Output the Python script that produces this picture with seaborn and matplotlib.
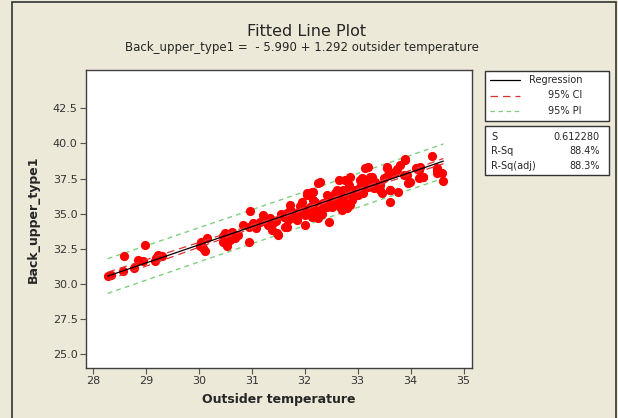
import numpy as np
import pandas as pd
import matplotlib
matplotlib.use("Agg")
import matplotlib.pyplot as plt
from matplotlib.patches import Rectangle
from matplotlib.lines import Line2D
import seaborn as sns

# --- data ---
temp = [28.28, 28.34, 28.57, 28.59, 28.78, 28.98, 28.86, 28.95, 29.17, 29.23,
        29.30, 29.20, 30.05, 30.15, 30.08, 30.12, 30.02, 30.46,
        30.49, 30.53, 30.59, 30.68, 30.46, 30.53, 30.94, 30.97, 30.84, 30.94,
        31.03, 31.09, 31.22, 31.25, 31.31, 31.38, 31.41, 31.47, 31.50, 31.16,
        31.35, 31.60, 31.66, 31.72, 31.79, 31.85, 31.91, 31.95, 32.01, 32.04,
        32.10, 32.16, 32.23, 32.26, 32.01, 31.63, 32.04, 32.16, 32.26, 32.29,
        32.42, 32.48, 32.54, 32.61, 32.64, 32.35, 32.42, 31.69, 31.85, 32.13,
        32.19, 31.95,
        34.40, 33.90, 33.80, 33.71, 33.55, 33.58, 33.74, 33.20, 33.14, 34.18,
        34.15, 34.24, 34.50, 34.50, 34.59, 34.62, 33.93, 33.87, 33.96, 33.61,
        33.77, 33.61, 33.49, 33.43, 33.46, 32.57, 32.61, 32.67, 32.76, 32.86,
        32.51, 32.64, 32.73, 32.86, 32.76, 32.83, 32.95, 33.05, 33.11, 33.08,
        33.24, 33.27, 33.30, 33.36, 33.17, 33.01, 32.92, 32.54, 32.70, 32.80,
        34.15, 33.99, 31.55, 31.75, 32.33, 32.45, 30.75, 30.62, 31.28, 33.66,
        31.60, 31.72, 31.79, 31.88, 32.04, 32.13, 32.16, 32.29, 32.38, 32.44,
        32.51, 32.67, 32.73, 32.79, 32.89, 33.05, 33.20, 33.27, 33.33, 33.43,
        33.55, 33.61, 33.71, 33.90, 34.11, 34.24, 34.50, 31.66, 32.20, 32.58,
        31.45, 31.92, 32.32, 32.98, 33.15]
back_upper = [30.52, 30.64, 30.88, 32.00, 31.12, 32.73, 31.66, 31.59, 31.59, 32.07,
              31.95, 31.83, 33.01, 33.25, 32.54, 32.30, 32.66, 33.37,
              33.61, 33.25, 33.13, 33.25, 33.01, 32.66, 33.01, 35.15, 34.20, 34.08,
              34.32, 33.97, 34.91, 34.56, 34.20, 33.84, 34.32, 33.61, 33.49, 34.43,
              34.68, 34.91, 35.03, 35.62, 34.79, 35.03, 35.15, 35.39, 34.91, 35.27,
              35.50, 35.39, 35.15, 34.68, 34.20, 34.08, 36.33, 36.57, 37.17, 37.28,
              36.33, 35.74, 36.10, 36.69, 37.40, 35.74, 35.50, 34.56, 34.56, 34.79,
              35.86, 35.86,
              39.11, 38.87, 38.47, 37.99, 38.23, 37.76, 38.16, 38.35, 38.23, 38.35,
              38.11, 37.63, 38.23, 37.88, 37.88, 37.35, 37.76, 37.76, 37.17, 36.69,
              36.57, 35.86, 37.52, 37.05, 36.45, 36.45, 35.98, 35.50, 35.74, 35.62,
              35.50, 36.33, 36.69, 37.63, 37.40, 37.05, 36.69, 36.92, 36.45, 37.52,
              37.63, 37.28, 36.81, 37.05, 37.17, 36.33, 36.21, 35.86, 35.27, 35.39,
              37.52, 37.28, 34.95, 35.20, 35.00, 34.40, 33.45, 33.70, 34.40, 37.90,
              34.79, 35.27, 34.68, 34.91, 36.45, 36.57, 35.98, 35.27, 35.50, 36.21,
              35.62, 35.86, 36.21, 36.45, 35.98, 37.40, 36.92, 37.63, 37.28, 36.69,
              38.35, 36.69, 37.99, 38.83, 38.23, 37.63, 38.11, 34.08, 35.00, 36.00,
              34.50, 35.55, 35.30, 36.60, 37.00]

intercept = -5.990
slope = 1.292
s_val = 0.612280
r_sq = 88.4
r_sq_adj = 88.3

df = pd.DataFrame({"x": temp, "y": back_upper})

# fitted line, confidence and prediction bands
n = len(df)
xbar = df["x"].mean()
sxx = ((df["x"] - xbar) ** 2).sum()
t_val = 1.97
xs = np.linspace(df["x"].min(), df["x"].max(), 100)
fit = intercept + slope * xs
ci = t_val * s_val * np.sqrt(1 / n + (xs - xbar) ** 2 / sxx)
pi = t_val * s_val * np.sqrt(1 + 1 / n + (xs - xbar) ** 2 / sxx)
bands = pd.DataFrame({"x": xs, "fit": fit, "ci_lo": fit - ci, "ci_hi": fit + ci,
                      "pi_lo": fit - pi, "pi_hi": fit + pi})

bg = "#ECE9D8"
sns.set_style("ticks")
plt.rcParams["font.family"] = ["DejaVu Sans"]

fig = plt.figure(figsize=(6.18, 4.18), dpi=100, facecolor=bg)
ax = fig.add_axes([86 / 618, 50 / 418, 386 / 618, 298 / 418])
ax.set_facecolor("white")

sns.scatterplot(data=df, x="x", y="y", ax=ax, color="red", s=44,
                edgecolor="red", linewidth=0, zorder=2)
sns.lineplot(data=bands, x="x", y="fit", ax=ax, color="black", lw=0.9, zorder=3)
for col in ["ci_lo", "ci_hi"]:
    sns.lineplot(data=bands, x="x", y=col, ax=ax, color="#e03030", lw=0.9,
                 zorder=3).lines[-1].set_dashes([6, 4])
for col in ["pi_lo", "pi_hi"]:
    sns.lineplot(data=bands, x="x", y=col, ax=ax, color="#7fd07f", lw=1.0,
                 zorder=1).lines[-1].set_dashes([3.5, 3])

ax.set_xlim(27.87, 35.16)
ax.set_ylim(24.0, 45.23)
ax.set_xticks(range(28, 36))
ax.set_yticks(np.arange(25.0, 43.0, 2.5))
ax.set_yticklabels([f"{v:.1f}" for v in np.arange(25.0, 43.0, 2.5)])
ax.tick_params(length=4, width=0.8, color="#555555", labelsize=8,
               labelcolor="#333333", pad=2)
for sp in ax.spines.values():
    sp.set_color("#404040")
    sp.set_linewidth(1.0)
ax.set_xlabel("Outsider temperature", fontsize=9, fontweight="bold", labelpad=5)
ax.set_ylabel("Back_upper_type1", fontsize=9, fontweight="bold", labelpad=9)

fig.text(307 / 618, 1 - 31 / 418, "Fitted Line Plot", fontsize=11.5,
         ha="center", va="center")
fig.text(302 / 618, 1 - 48 / 418,
         "Back_upper_type1 =  - 5.990 + 1.292 outsider temperature",
         fontsize=8.5, ha="center", va="center")

# outer frame
fig.patches.append(Rectangle((12 / 618, -0.05), 604 / 618, 1.05 - 1.5 / 418,
                             transform=fig.transFigure, fill=False,
                             edgecolor="#333333", lw=1.2))

# legend box
fig.patches.append(Rectangle((485 / 618, 1 - 121 / 418), 124 / 618, 50 / 418,
                             transform=fig.transFigure, facecolor="white",
                             edgecolor="#333333", lw=1.0))
leg_items = [("Regression", "black", None), ("95% CI", "#e03030", [6, 4]),
             ("95% PI", "#7fd07f", [3.5, 3])]
for i, (lab, c, d) in enumerate(leg_items):
    yy = 1 - (80 + 15.5 * i) / 418
    ln = Line2D([490 / 618, 520 / 618], [yy, yy], transform=fig.transFigure,
                color=c, lw=0.9)
    if d:
        ln.set_dashes(d)
    fig.lines.append(ln)
    fig.text(582 / 618, yy, lab, fontsize=7, ha="right", va="center")

# statistics box
fig.patches.append(Rectangle((485 / 618, 1 - 175 / 418), 124 / 618, 49 / 418,
                             transform=fig.transFigure, facecolor="white",
                             edgecolor="#333333", lw=1.0))
stats = [("S", f"{s_val:.6f}"), ("R-Sq", f"{r_sq:.1f}%"),
         ("R-Sq(adj)", f"{r_sq_adj:.1f}%")]
for i, (k, v) in enumerate(stats):
    yy = 1 - (137 + 14.5 * i) / 418
    fig.text(491 / 618, yy, k, fontsize=7, ha="left", va="center")
    fig.text(600 / 618, yy, v, fontsize=7, ha="right", va="center")

fig.savefig("out.png", dpi=100, facecolor=bg)
